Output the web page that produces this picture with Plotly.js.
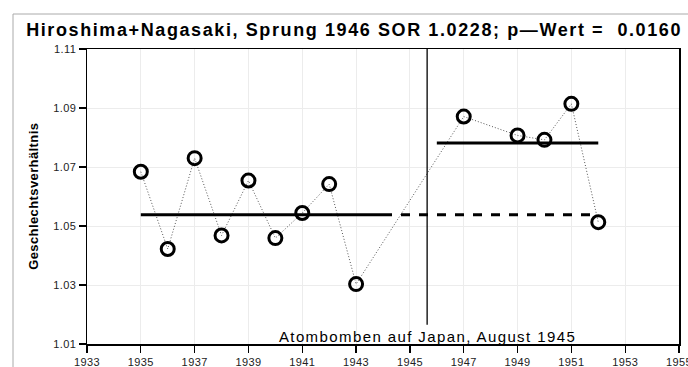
<!DOCTYPE html>
<html>
<head>
<meta charset="utf-8">
<script src="https://cdn.plot.ly/plotly-3.0.1.min.js"></script>
<style>
html,body{margin:0;padding:0;background:#fff;}
#chart{width:688px;height:367px;}
#chart .gtitle{letter-spacing:1.6px;}
#chart [data-index="1"] .annotation-text{letter-spacing:1.4px;}
#chart [data-index="0"] .annotation-text{letter-spacing:0.4px;}
#chart .xtick text, #chart .ytick text{letter-spacing:0.4px;}
</style>
</head>
<body>
<div id="chart"></div>
<script>
// ---- data ----
const years = [1935, 1936, 1937, 1938, 1939, 1940, 1941, 1942, 1943, 1947, 1949, 1950, 1951, 1952];
const ratios = [1.0684, 1.0422, 1.0730, 1.0468, 1.0654, 1.0459, 1.0544, 1.0642, 1.0303, 1.0871, 1.0807, 1.0792, 1.0914, 1.0513];
const preMeanYears = [1935, 1944];
const preMeanExtYears = [1944, 1952];
const preMean = 1.0538;
const postMeanYears = [1946, 1952];
const postMean = 1.0781;
const eventYear = 1945.64;
const eventYRange = [1.0165, 1.11];
const xTicks = [1933, 1935, 1937, 1939, 1941, 1943, 1945, 1947, 1949, 1951, 1953, 1955];
const yTicks = [1.01, 1.03, 1.05, 1.07, 1.09, 1.11];
const yTickLabels = ['1.01', '1.03', '1.05', '1.07', '1.09', '1.11'];
const titleText = 'Hiroshima+Nagasaki, Sprung 1946 SOR 1.0228; p\u2014Wert =  0.0160';
const yTitle = 'Geschlechtsverhältnis';
const eventLabel = 'Atombomben auf Japan, August 1945';

const traces = [
  {x: years, y: ratios, mode: 'lines', line: {color: '#555', width: 1, dash: '1px,2px'}, hoverinfo: 'skip'},
  {x: preMeanYears, y: [preMean, preMean], mode: 'lines', line: {color: '#000', width: 3}},
  {x: preMeanExtYears, y: [preMean, preMean], mode: 'lines', line: {color: '#000', width: 3, dash: 'dash'}},
  {x: postMeanYears, y: [postMean, postMean], mode: 'lines', line: {color: '#000', width: 3}},
  {x: [eventYear, eventYear], y: eventYRange, mode: 'lines', line: {color: '#000', width: 1.3}},
  {x: years, y: ratios, mode: 'markers', marker: {symbol: 'circle-open', size: 13, color: '#000', line: {width: 3, color: '#000'}}}
];

const layout = {
  width: 688, height: 367,
  margin: {l: 87, r: 9, t: 49, b: 23},
  showlegend: false,
  paper_bgcolor: '#fff', plot_bgcolor: '#fff',
  font: {family: 'Liberation Sans, Arial, sans-serif', color: '#000'},
  title: {text: '<b>' + titleText + '</b>', xref: 'container', yref: 'container', x: 0.038, xanchor: 'left', y: 0.918, yanchor: 'middle', font: {size: 18, color: '#000', family: 'Liberation Sans, Arial, sans-serif'}},
  xaxis: {
    range: [1933, 1955], tickvals: xTicks, ticktext: xTicks.map(String),
    showgrid: true, gridcolor: '#ececec', gridwidth: 1,
    showline: true, linecolor: '#000', linewidth: 1.5, mirror: true,
    ticks: 'outside', ticklen: 7, tickwidth: 1.2, tickcolor: '#000',
    tickfont: {size: 11, color: '#222'}, zeroline: false, ticklabeloverflow: 'allow'
  },
  yaxis: {
    range: [1.01, 1.11], tickvals: yTicks, ticktext: yTickLabels,
    showgrid: true, gridcolor: '#ececec', gridwidth: 1,
    showline: true, linecolor: '#000', linewidth: 1.5, mirror: true,
    ticks: 'outside', ticklen: 7, tickwidth: 1.2, tickcolor: '#000',
    tickfont: {size: 11, color: '#222'}, zeroline: false
  },
  annotations: [
    {text: '<b>' + yTitle + '</b>', xref: 'paper', yref: 'paper', x: -0.091, y: 0.5, xanchor: 'center', yanchor: 'middle', textangle: -90, showarrow: false, font: {size: 13, color: '#000'}},
    {text: eventLabel, xref: 'x', yref: 'y', x: eventYear, y: 1.0127, xanchor: 'center', yanchor: 'middle', showarrow: false, font: {size: 15, color: '#000'}}
  ],
  shapes: [
    {type: 'rect', xref: 'paper', yref: 'paper', x0: -0.125, x1: 1.1, y0: -0.3, y1: 1.1186, line: {color: '#aaa', width: 1}, layer: 'below'}
  ]
};

Plotly.newPlot('chart', traces, layout, {displayModeBar: false, staticPlot: true});
</script>
</body>
</html>
